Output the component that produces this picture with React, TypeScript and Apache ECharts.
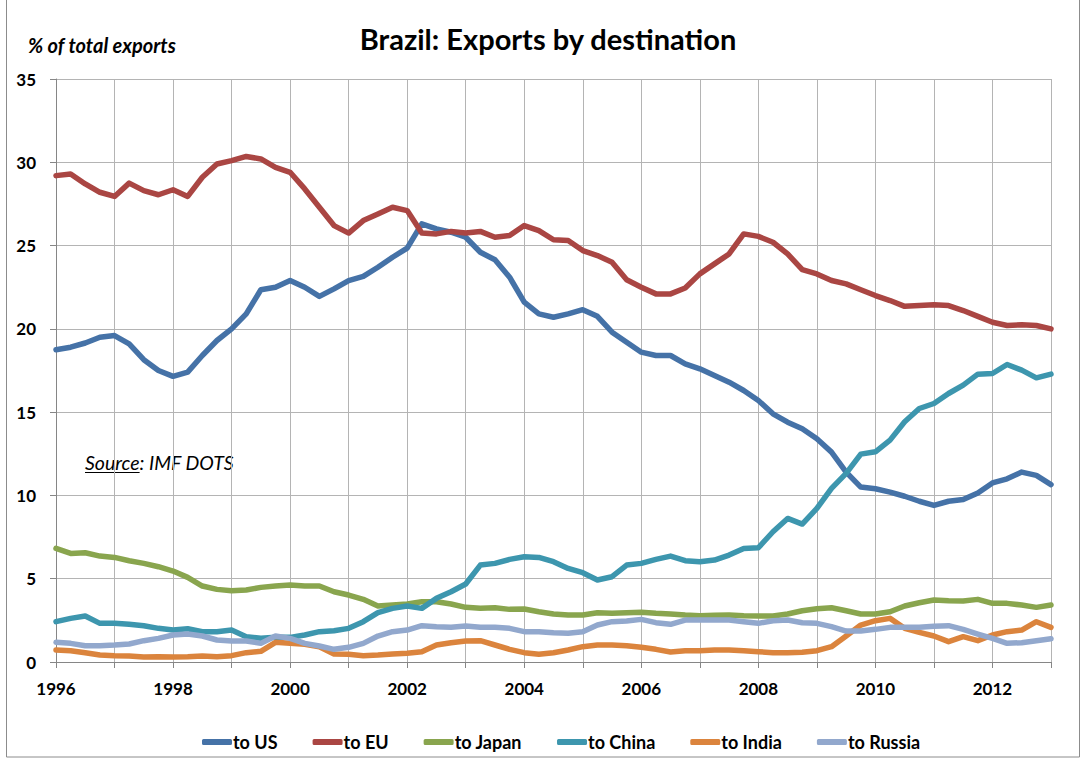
import React, { useEffect, useRef } from "react";
import * as echarts from "echarts";

const FONT = "Lato, 'Liberation Sans', sans-serif";

// quarterly categories 1996Q1 .. 2013Q1
const startYear = 1996;
const pointCount = 69;
const quarters: string[] = [];
for (let k = 0; k < pointCount; k++) {
  quarters.push(`${startYear + Math.floor(k / 4)}Q${(k % 4) + 1}`);
}

const seriesNames = ["to US", "to EU", "to Japan", "to China", "to India", "to Russia"];
const seriesColors = ["#4572A7", "#AA4643", "#89A54E", "#3D96AE", "#DB843D", "#92A8CD"];

const toUS = [
  18.75, 18.9, 19.15, 19.5, 19.6, 19.1, 18.15, 17.5, 17.15, 17.4, 18.4, 19.3, 20.0,
  20.9, 22.35, 22.5, 22.9, 22.5, 21.95, 22.4, 22.9, 23.15, 23.7, 24.3, 24.85,
  26.3, 26.0, 25.8, 25.5, 24.6, 24.15, 23.1, 21.6, 20.9, 20.7, 20.9, 21.15,
  20.75, 19.8, 19.2, 18.6, 18.4, 18.4, 17.9, 17.6, 17.2, 16.8, 16.3, 15.7,
  14.9, 14.4, 14.0, 13.4, 12.6, 11.4, 10.5, 10.4, 10.2, 9.95, 9.65, 9.4,
  9.65, 9.75, 10.15, 10.75, 11.0, 11.4, 11.2, 10.65,
];
const toEU = [
  29.2, 29.3, 28.7, 28.2, 27.95, 28.75, 28.3, 28.05, 28.35, 27.95, 29.1, 29.9, 30.1,
  30.35, 30.2, 29.7, 29.4, 28.4, 27.3, 26.2, 25.75, 26.5, 26.9, 27.3, 27.1,
  25.75, 25.7, 25.85, 25.75, 25.85, 25.5, 25.6, 26.2, 25.9, 25.35, 25.3, 24.7,
  24.4, 24.0, 22.95, 22.5, 22.1, 22.1, 22.45, 23.3, 23.9, 24.5, 25.7, 25.55,
  25.2, 24.5, 23.55, 23.3, 22.9, 22.7, 22.35, 22.0, 21.7, 21.35, 21.4, 21.45,
  21.4, 21.1, 20.75, 20.4, 20.2, 20.25, 20.2, 20.0,
];
const toJapan = [
  6.82, 6.52, 6.56, 6.36, 6.28, 6.08, 5.92, 5.72, 5.46, 5.08, 4.56, 4.36, 4.28,
  4.32, 4.48, 4.56, 4.62, 4.56, 4.56, 4.22, 4.02, 3.76, 3.36, 3.42, 3.48,
  3.62, 3.62, 3.48, 3.28, 3.22, 3.26, 3.16, 3.18, 3.02, 2.88, 2.82, 2.82,
  2.96, 2.92, 2.96, 2.98, 2.92, 2.88, 2.82, 2.78, 2.8, 2.82, 2.78, 2.76,
  2.76, 2.88, 3.08, 3.2, 3.26, 3.08, 2.88, 2.88, 3.02, 3.36, 3.56, 3.72,
  3.68, 3.66, 3.76, 3.52, 3.52, 3.42, 3.28, 3.42,
];
const toChina = [
  2.42, 2.62, 2.76, 2.32, 2.32, 2.26, 2.18, 2.02, 1.92, 2.0, 1.82, 1.82, 1.92,
  1.52, 1.42, 1.48, 1.48, 1.62, 1.82, 1.88, 2.02, 2.42, 2.96, 3.22, 3.36,
  3.22, 3.82, 4.22, 4.68, 5.82, 5.92, 6.16, 6.32, 6.28, 6.02, 5.62, 5.36,
  4.92, 5.12, 5.82, 5.92, 6.16, 6.36, 6.08, 6.02, 6.12, 6.42, 6.82, 6.86,
  7.82, 8.62, 8.28, 9.22, 10.42, 11.32, 12.48, 12.62, 13.32, 14.42, 15.22, 15.52,
  16.12, 16.62, 17.28, 17.32, 17.86, 17.52, 17.06, 17.28,
];
const toIndia = [
  0.72, 0.68, 0.56, 0.42, 0.38, 0.36, 0.3, 0.32, 0.3, 0.32, 0.36, 0.32, 0.38,
  0.56, 0.64, 1.18, 1.12, 1.06, 0.92, 0.48, 0.46, 0.38, 0.42, 0.48, 0.52,
  0.62, 1.02, 1.16, 1.26, 1.28, 1.02, 0.76, 0.56, 0.46, 0.56, 0.72, 0.92,
  1.02, 1.02, 0.98, 0.88, 0.76, 0.6, 0.68, 0.68, 0.72, 0.72, 0.68, 0.62,
  0.56, 0.56, 0.58, 0.68, 0.92, 1.56, 2.22, 2.48, 2.62, 2.02, 1.78, 1.56,
  1.22, 1.52, 1.28, 1.62, 1.82, 1.92, 2.42, 2.08,
];
const toRussia = [
  1.18, 1.12, 0.98, 0.98, 1.02, 1.08, 1.28, 1.42, 1.62, 1.68, 1.56, 1.32, 1.26,
  1.26, 1.12, 1.56, 1.42, 1.12, 0.96, 0.76, 0.88, 1.12, 1.56, 1.82, 1.92,
  2.18, 2.12, 2.08, 2.16, 2.08, 2.08, 2.02, 1.82, 1.82, 1.76, 1.72, 1.82,
  2.22, 2.42, 2.46, 2.56, 2.36, 2.26, 2.52, 2.52, 2.52, 2.52, 2.42, 2.32,
  2.48, 2.52, 2.36, 2.32, 2.12, 1.86, 1.86, 1.96, 2.08, 2.08, 2.08, 2.14,
  2.18, 1.96, 1.68, 1.42, 1.12, 1.16, 1.28, 1.4,
];
const seriesValues = [toUS, toEU, toJapan, toChina, toIndia, toRussia];

const titleText = "Brazil: Exports by destination";
const yAxisTitle = "% of total exports";
const sourceLabel = "Source";
const sourceRest = ": IMF DOTS";

function measure(text: string, font: string): number {
  const c = document.createElement("canvas").getContext("2d");
  if (!c) return text.length * 9;
  c.font = font;
  return c.measureText(text).width;
}

export default function App() {
  const ref = useRef<HTMLDivElement>(null);
  useEffect(() => {
    document.body.style.margin = "0";
    if (!ref.current) return;
    const chart = echarts.init(ref.current, null, { renderer: "svg" });
    const srcFont = `italic 19.5px Lato`;
    const srcW = measure(sourceLabel, srcFont);
    const srcX = 85;
    const srcY = 462;
    chart.setOption({
      animation: false,
      backgroundColor: "#fff",
      textStyle: { fontFamily: FONT },
      grid: { left: 56, right: 33, top: 79, bottom: 100 },
      legend: {
        data: seriesNames,
        top: 728,
        left: 197,
        icon: "roundRect",
        itemWidth: 30,
        itemHeight: 6,
        itemGap: 35,
        textStyle: {
          fontFamily: FONT,
          fontSize: 18,
          fontWeight: "bold",
          color: "#000",
          padding: [0, 0, 0, -4],
        },
      },
      xAxis: {
        type: "category",
        data: quarters,
        boundaryGap: false,
        axisLine: { lineStyle: { color: "#868686", width: 1 } },
        axisTick: { show: true, interval: 3, length: 6, lineStyle: { color: "#868686" } },
        axisLabel: {
          interval: 7,
          margin: 18,
          color: "#000",
          fontFamily: FONT,
          fontSize: 17,
          fontWeight: "bold",
          formatter: (v: string) => v.slice(0, 4),
        },
        splitLine: { show: true, interval: 3, lineStyle: { color: "#b4b4b4", width: 1 } },
      },
      yAxis: {
        type: "value",
        min: 0,
        max: 35,
        interval: 5,
        axisLine: { show: true, lineStyle: { color: "#868686", width: 1 } },
        axisTick: { show: true, length: 6, lineStyle: { color: "#868686" } },
        axisLabel: {
          margin: 20,
          color: "#000",
          fontFamily: FONT,
          fontSize: 17,
          fontWeight: "bold",
        },
        splitLine: { show: true, lineStyle: { color: "#b4b4b4", width: 1 } },
      },
      series: seriesNames.map((name, i) => ({
        name,
        type: "line",
        data: seriesValues[i],
        symbol: "none",
        showSymbol: false,
        color: seriesColors[i],
        lineStyle: { width: 5.5, color: seriesColors[i], cap: "round", join: "round" },
      })),
      graphic: [
        {
          type: "rect",
          silent: true,
          shape: { x: 6.5, y: -2, width: 1073, height: 759 },
          style: { fill: "none", stroke: "#8c8c8c", lineWidth: 1 },
        },
        {
          type: "text",
          x: 548,
          y: 38,
          style: {
            text: titleText,
            fontFamily: FONT,
            fontSize: 29,
            fontWeight: "bold",
            fill: "#000",
            align: "center",
            verticalAlign: "middle",
          },
        },
        {
          type: "text",
          x: 28,
          y: 45,
          style: {
            text: yAxisTitle,
            fontFamily: FONT,
            fontSize: 20,
            fontWeight: "bold",
            fontStyle: "italic",
            fill: "#000",
            align: "left",
            verticalAlign: "middle",
          },
        },
        {
          type: "text",
          x: srcX,
          y: srcY,
          style: {
            text: sourceLabel + sourceRest,
            fontFamily: FONT,
            fontSize: 19.5,
            fontStyle: "italic",
            fill: "#000",
            align: "left",
            verticalAlign: "middle",
          },
        },
        {
          type: "line",
          silent: true,
          shape: { x1: srcX, y1: srcY + 10.5, x2: srcX + srcW, y2: srcY + 10.5 },
          style: { stroke: "#000", lineWidth: 1.2 },
        },
      ],
    });
    return () => chart.dispose();
  }, []);
  return <div ref={ref} style={{ width: 1084, height: 762 }} />;
}
